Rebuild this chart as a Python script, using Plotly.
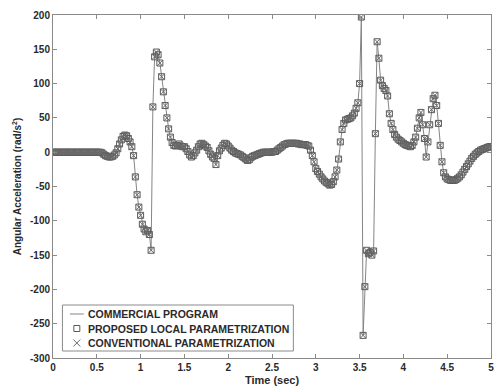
import plotly.graph_objects as go

# ---- data ----
time_step = 0.02
acceleration = [
    0, 0, 0, 0, 0,            # 0.00-0.08
    0, 0, 0, 0, 0,            # 0.10
    0, 0, 0, 0, 0,            # 0.20
    0, 0, 0, 0, 0,            # 0.30
    0, 0, 0, 0, 0,            # 0.40
    0, 0, 0, -1, -3,          # 0.50
    -5, -6, -7, -7, -6,       # 0.60
    -4, -1, 5, 12, 18,        # 0.70
    23, 25, 24, 20, 15,       # 0.80
    8, -5, -36, -62, -80,     # 0.90
    -92, -105, -112, -116, -114,  # 1.00
    -120, -143, 66, 139, 146,     # 1.10
    142, 130, 110, 88, 68,    # 1.20
    50, 34, 22, 14, 10,       # 1.30
    9, 10, 12, 9, 8,          # 1.40
    8, 5, 1, -4, -7,          # 1.50
    -5, -1, 3, 8, 12,         # 1.60
    13, 11, 9, 7, 2,          # 1.70
    -3, -7, -9, -18, -5,      # 1.80
    2, 6, 10, 13, 12,         # 1.90
    9, 6, 3, 1, -1,           # 2.00
    -2, -3, -4, -6, -8,       # 2.10
    -10, -12, -11, -8, -6,    # 2.20
    -5, -4, -3, -2, -1,       # 2.30
    0, 0, 0, 0, 0,            # 2.40
    0, 1, 1, 3, 5,            # 2.50
    7, 9, 11, 12, 13,         # 2.60
    13, 13, 13, 13, 13,       # 2.70
    12, 12, 11, 11, 11,       # 2.80
    10, 9, 3, -5, -14,        # 2.90
    -24, -28, -32, -36, -39,  # 3.00
    -42, -44, -46, -48, -47,  # 3.10
    -43, -36, -26, -10, 15,   # 3.20
    33, 42, 47, 48, 49,       # 3.30
    50, 53, 57, 64, 72,       # 3.40
    100, 197, -267, -196, -143,   # 3.50
    -148, -146, -150, -144, 27,   # 3.60
    161, 137, 105, 97, 93,    # 3.70
    90, 82, 56, 42, 33,       # 3.80
    26, 22, 19, 17, 15,       # 3.90
    13, 11, 10, 9, 8,         # 4.00
    10, 15, 22, 35, 50,       # 4.10
    58, 40, 20, -7, 15,       # 4.20
    40, 62, 78, 83, 68,       # 4.30
    42, 10, -14, -30, -36,    # 4.40
    -39, -40, -41, -41, -41,  # 4.50
    -40, -38, -36, -33, -29,  # 4.60
    -25, -21, -17, -13, -9,   # 4.70
    -6, -3, -1, 1, 3,         # 4.80
    4, 5, 6, 7, 8,            # 4.90
    8,                        # 5.00
]
time_sec = [round(i * time_step, 2) for i in range(len(acceleration))]

commercial_program = acceleration
proposed_local = acceleration
conventional = acceleration

series_names = ["COMMERCIAL PROGRAM", "PROPOSED LOCAL PARAMETRIZATION",
                "CONVENTIONAL PARAMETRIZATION"]
x_ticks = [0, 0.5, 1, 1.5, 2, 2.5, 3, 3.5, 4, 4.5, 5]
x_tick_labels = ["0", "0.5", "1", "1.5", "2", "2.5", "3", "3.5", "4", "4.5", "5"]
y_ticks = [-300, -250, -200, -150, -100, -50, 0, 50, 100, 150, 200]
y_tick_labels = ["-300", "-250", "-200", "-150", "-100", "-50", "0", "50", "100", "150", "200"]

FONT = "Liberation Sans, Arial, sans-serif"
TXT = "#2a2a2a"
AX = "#8a8a8a"
LINE_C = "#858585"
SQ_C = "#5a5a5a"
X_C = "#6a6a6a"

W, H = 496, 390
ML, MR, MT, MB = 53, 2, 15, 32
PW, PH = W - ML - MR, H - MT - MB


def px(xp):
    return (xp - ML) / PW


def py(yp):
    return (H - MB - yp) / PH


fig = go.Figure()
fig.add_trace(go.Scatter(
    x=time_sec, y=commercial_program, mode="lines", name=series_names[0],
    line=dict(color=LINE_C, width=1), showlegend=False))
fig.add_trace(go.Scatter(
    x=time_sec, y=proposed_local, mode="markers", name=series_names[1],
    marker=dict(symbol="square-open", size=6, color=SQ_C, line=dict(width=1)),
    showlegend=False))
fig.add_trace(go.Scatter(
    x=time_sec, y=conventional, mode="markers", name=series_names[2],
    marker=dict(symbol="x-thin-open", size=6, color=X_C, line=dict(width=1, color=X_C)),
    showlegend=False))

axis_common = dict(
    showline=True, linecolor=AX, linewidth=1, mirror="ticks",
    ticks="inside", ticklen=4, tickcolor=AX, showgrid=False, zeroline=False,
    ticklabeloverflow="allow",
    tickfont=dict(family=FONT, size=10, color=TXT, weight="bold"),
)
fig.update_xaxes(range=[0, 5], tickvals=x_ticks, ticktext=x_tick_labels,
                 title=dict(text="Time (sec)", standoff=4,
                            font=dict(family=FONT, size=11, color=TXT, weight="bold")),
                 **axis_common)
fig.update_yaxes(range=[-300, 200], tickvals=y_ticks, ticktext=y_tick_labels,
                 title=dict(text="Angular Acceleration (rad/s<sup>2</sup>)", standoff=6,
                            font=dict(family=FONT, size=10, color=TXT, weight="bold")),
                 **axis_common)

# ---- legend box drawn in the lower-left corner (paper coordinates) ----
box_l, box_r, box_t, box_b = 62.5, 295, 305, 351
row_y = [314, 328.5, 343]
sample_cx = 77
shapes = [
    dict(type="rect", xref="paper", yref="paper", layer="above",
         x0=px(box_l), x1=px(box_r), y0=py(box_b), y1=py(box_t),
         line=dict(color=AX, width=1), fillcolor="white"),
    dict(type="line", xref="paper", yref="paper", layer="above",
         x0=px(70), x1=px(84), y0=py(row_y[0]), y1=py(row_y[0]),
         line=dict(color=LINE_C, width=1)),
    dict(type="rect", xref="paper", yref="paper", layer="above",
         x0=px(sample_cx - 3), x1=px(sample_cx + 3),
         y0=py(row_y[1] + 3), y1=py(row_y[1] - 3),
         line=dict(color=SQ_C, width=1)),
    dict(type="line", xref="paper", yref="paper", layer="above",
         x0=px(sample_cx - 3.5), x1=px(sample_cx + 3.5),
         y0=py(row_y[2] + 3.5), y1=py(row_y[2] - 3.5),
         line=dict(color=X_C, width=1)),
    dict(type="line", xref="paper", yref="paper", layer="above",
         x0=px(sample_cx - 3.5), x1=px(sample_cx + 3.5),
         y0=py(row_y[2] - 3.5), y1=py(row_y[2] + 3.5),
         line=dict(color=X_C, width=1)),
]
annotations = [
    dict(text=name, xref="paper", yref="paper", x=px(86), y=py(ry),
         xanchor="left", yanchor="middle", showarrow=False,
         font=dict(family=FONT, size=10.5, color=TXT, weight="bold"))
    for name, ry in zip(series_names, row_y)
]

fig.update_layout(
    width=W, height=H,
    margin=dict(l=ML, r=MR, t=MT, b=MB),
    paper_bgcolor="white", plot_bgcolor="white",
    font=dict(family=FONT, color=TXT),
    showlegend=False,
    shapes=shapes,
    annotations=annotations,
)

fig.write_html("out.html", post_script="document.body.style.margin='0';",
               config={"displayModeBar": False})
